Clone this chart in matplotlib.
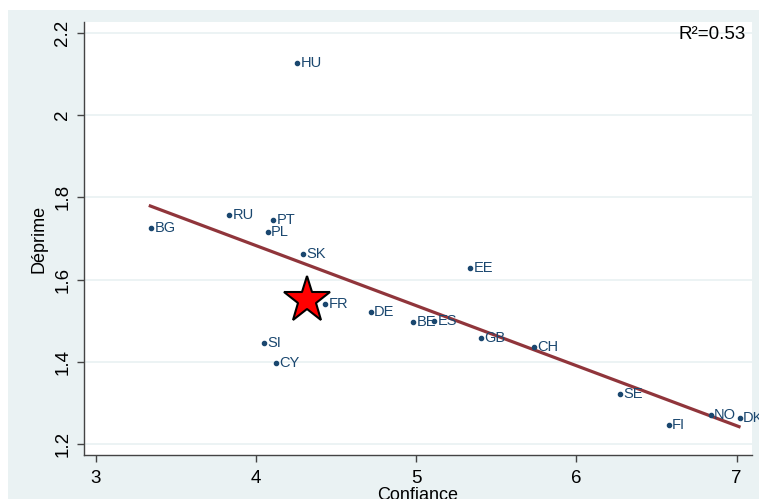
import matplotlib
matplotlib.use('Agg')
import matplotlib.pyplot as plt
from matplotlib.patches import Rectangle

plt.rcParams['font.family'] = ['Liberation Sans', 'DejaVu Sans']

# country points: confiance (x) vs deprime (y)
countries = ['HU', 'RU', 'BG', 'PT', 'PL', 'SK', 'FR', 'SI', 'CY', 'DE', 'EE',
             'BE', 'ES', 'GB', 'CH', 'SE', 'FI', 'NO', 'DK']
confiance = [4.255, 3.832, 3.343, 4.107, 4.072, 4.292, 4.431, 4.049, 4.125, 4.715, 5.335,
             4.981, 5.112, 5.403, 5.732, 6.273, 6.575, 6.837, 7.018]
deprime = [2.126, 1.758, 1.725, 1.746, 1.715, 1.662, 1.541, 1.446, 1.396, 1.522, 1.629,
           1.496, 1.498, 1.457, 1.436, 1.322, 1.245, 1.271, 1.262]

# fitted line endpoints
fit_x = [3.339, 7.015]
fit_y = [1.779, 1.242]

# highlighted point (star)
star_x = [4.315]
star_y = [1.551]

navy = '#1A476F'
maroon = '#90353B'
bg = '#EAF2F3'

fig = plt.figure(figsize=(7.59, 4.99), dpi=100)
fig.patch.set_facecolor('white')
fig.add_artist(Rectangle((8 / 759, 0), 1, 489 / 499, transform=fig.transFigure,
                         facecolor=bg, edgecolor='none', zorder=-10))

ax = fig.add_axes([84 / 759, 44 / 499, 668 / 759, 433 / 499])
ax.set_zorder(1)
ax.set_facecolor('white')

ax.plot(fit_x, fit_y, color=maroon, lw=2.3, zorder=2)
ax.plot(confiance, deprime, 'o', color=navy, ms=3, zorder=3)
for c, x, y in zip(countries, confiance, deprime):
    ax.annotate(c, (x, y), xytext=(2.5, 0), textcoords='offset points',
                va='center', ha='left', color=navy, fontsize=10.5, zorder=4,
                annotation_clip=False)

ax.plot(star_x, star_y, marker='*', color='red', ms=35, mec='black', mew=1.5,
        ls='none', zorder=5)

ax.set_xlim(2.925, 7.096)
ax.set_ylim(1.173, 2.2267)
ax.set_xticks([3, 4, 5, 6, 7])
ax.set_yticks([1.2, 1.4, 1.6, 1.8, 2.0, 2.2])
ax.set_yticklabels(['1.2', '1.4', '1.6', '1.8', '2', '2.2'], rotation=90, va='center')
ax.yaxis.grid(True, color=bg, lw=1.3)
ax.set_axisbelow(True)

for s in ['top', 'right']:
    ax.spines[s].set_visible(False)
for s in ['left', 'bottom']:
    ax.spines[s].set_color('#444444')
    ax.spines[s].set_linewidth(1)

ax.tick_params(axis='both', direction='out', length=5, width=1, color='#444444',
               labelsize=13.5, labelcolor='black')
ax.tick_params(axis='x', pad=6)
ax.tick_params(axis='y', pad=4)

ax.set_xlabel('Confiance', fontsize=13, labelpad=0)
ax.set_ylabel('Déprime', fontsize=13, labelpad=5)

ax.text(0.991, 0.99, 'R²=0.53', transform=ax.transAxes, ha='right', va='top',
        fontsize=13.5)

fig.savefig('out.png', dpi=100, facecolor='white')
